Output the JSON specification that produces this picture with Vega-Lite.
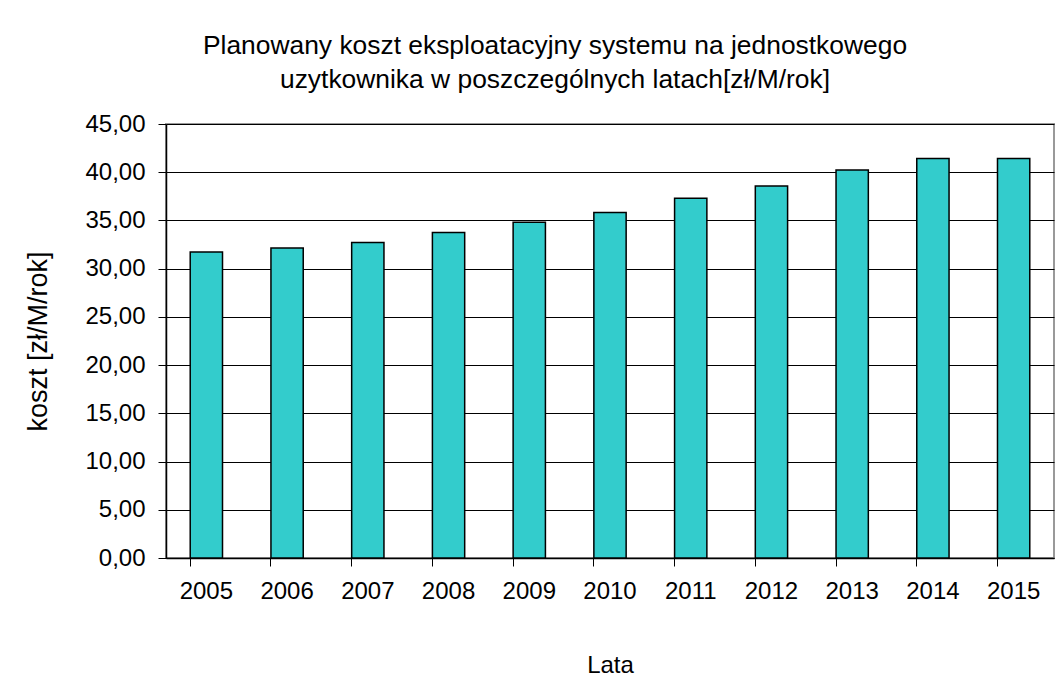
{
  "$schema": "https://vega.github.io/schema/vega-lite/v6.json",
  "width": 888,
  "height": 434,
  "autosize": "none",
  "padding": {"left": 166, "top": 124, "right": 4, "bottom": 134},
  "background": "white",
  "title": {
    "text": ["Planowany koszt eksploatacyjny systemu na jednostkowego", "uzytkownika w poszczególnych latach[zł/M/rok]"],
    "font": "Liberation Sans",
    "fontSize": 26.4,
    "fontWeight": "normal",
    "color": "black",
    "anchor": "middle",
    "frame": "group",
    "dx": -55,
    "offset": 19,
    "lineHeight": 34
  },
  "data": {
    "values": [
      {"rok": "2005", "koszt": 31.73},
      {"rok": "2006", "koszt": 32.14},
      {"rok": "2007", "koszt": 32.72},
      {"rok": "2008", "koszt": 33.76},
      {"rok": "2009", "koszt": 34.8},
      {"rok": "2010", "koszt": 35.83},
      {"rok": "2011", "koszt": 37.29},
      {"rok": "2012", "koszt": 38.57},
      {"rok": "2013", "koszt": 40.23},
      {"rok": "2014", "koszt": 41.43},
      {"rok": "2015", "koszt": 41.43}
    ]
  },
  "mark": {"type": "bar", "fill": "#33CCCC", "stroke": "black", "strokeWidth": 1.5},
  "encoding": {
    "x": {
      "field": "rok",
      "type": "ordinal",
      "scale": {"paddingInner": 0.6, "paddingOuter": 0.3},
      "axis": {
        "title": "Lata",
        "titleFont": "Liberation Sans",
        "titleFontSize": 24,
        "titleFontWeight": "normal",
        "titleColor": "black",
        "titlePadding": 50,
        "labelAngle": 0,
        "labelFont": "Liberation Sans",
        "labelFontSize": 24,
        "labelColor": "black",
        "labelPadding": 13,
        "bandPosition": 0,
        "tickColor": "black",
        "tickSize": 8,
        "domainColor": "black",
        "domainWidth": 1.5,
        "grid": false
      }
    },
    "y": {
      "field": "koszt",
      "type": "quantitative",
      "scale": {"domain": [0, 45], "nice": false},
      "axis": {
        "title": "koszt [zł/M/rok]",
        "titleFont": "Liberation Sans",
        "titleFontSize": 27,
        "titleFontWeight": "normal",
        "titleColor": "black",
        "titlePadding": 32,
        "values": [0, 5, 10, 15, 20, 25, 30, 35, 40, 45],
        "labelExpr": "replace(format(datum.value, '.2f'), '.', ',')",
        "labelFont": "Liberation Sans",
        "labelFontSize": 24,
        "labelColor": "black",
        "labelPadding": 13,
        "tickColor": "black",
        "tickSize": 8,
        "domainColor": "black",
        "domainWidth": 1.5,
        "grid": true,
        "gridColor": "black",
        "gridWidth": 1.2,
        "gridOpacity": 1
      }
    }
  },
  "config": {
    "view": {"stroke": "#999999", "strokeWidth": 2}
  }
}
